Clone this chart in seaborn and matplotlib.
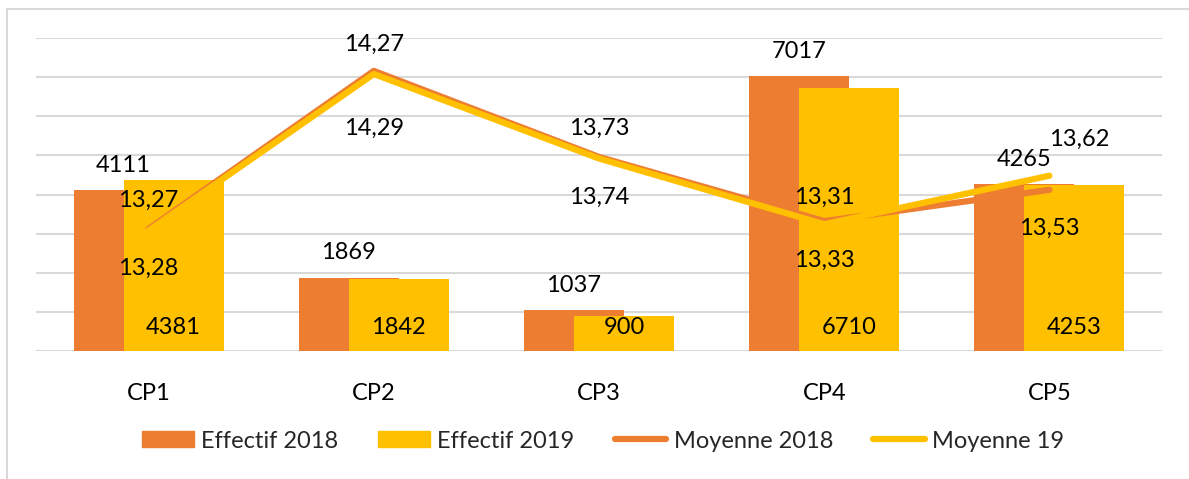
import numpy as np
import pandas as pd
import matplotlib
matplotlib.use('Agg')
import matplotlib.pyplot as plt
from matplotlib.patches import Rectangle, Patch
from matplotlib.lines import Line2D
import seaborn as sns

# Données
categories = ['CP1', 'CP2', 'CP3', 'CP4', 'CP5']
effectif_2018 = [4111, 1869, 1037, 7017, 4265]
effectif_2019 = [4381, 1842, 900, 6710, 4253]
moyenne_2018 = [13.28, 14.29, 13.74, 13.33, 13.53]
moyenne_19 = [13.27, 14.27, 13.73, 13.31, 13.62]

orange = '#ED7D31'
jaune = '#FFC000'
gris = '#D9D9D9'

sns.set_theme(style='white')
plt.rcParams['font.family'] = ['Lato', 'DejaVu Sans']
fs = 17

W, H = 1189, 479
fig = plt.figure(figsize=(W / 100, H / 100), dpi=100)
ax = fig.add_axes([36 / W, 1 - 351 / H, 1126 / W, 313 / H])

idx = np.arange(len(categories))
decal = 0.111
largeur = 0.444

# Barres (2019 par-dessus 2018, chevauchement 50 %)
df18 = pd.DataFrame({'pos': idx - decal, 'val': effectif_2018})
df19 = pd.DataFrame({'pos': idx + decal, 'val': effectif_2019})
sns.barplot(data=df18, x='pos', y='val', native_scale=True, width=largeur,
            color=orange, saturation=1, errorbar=None, linewidth=0, ax=ax)
sns.barplot(data=df19, x='pos', y='val', native_scale=True, width=largeur,
            color=jaune, saturation=1, errorbar=None, linewidth=0, ax=ax)

# Lignes (axe secondaire)
ax2 = ax.twinx()
sns.lineplot(x=idx, y=moyenne_2018, ax=ax2, color=orange, lw=4.5,
             solid_capstyle='round')
sns.lineplot(x=idx, y=moyenne_19, ax=ax2, color=jaune, lw=4.5,
             solid_capstyle='round')
ax2.set_ylim(12.5, 14.5)
ax2.set_yticks([])
for s in ax2.spines.values():
    s.set_visible(False)

ax.set_xlim(-0.5, len(categories) - 0.5)
ax.set_ylim(0, 8000)
ax.set_yticks(np.arange(0, 8001, 1000))
ax.yaxis.grid(True, color=gris, lw=1.5)
ax.set_axisbelow(True)
ax.tick_params(axis='y', left=False, right=False, labelleft=False)
ax.set_xticks(idx)
ax.set_xticklabels(categories, fontsize=fs, color='black')
ax.tick_params(axis='x', bottom=False, pad=17)
ax.set_xlabel('')
ax.set_ylabel('')
for s in ax.spines.values():
    s.set_visible(False)

def fr(v):
    return f'{v:.2f}'.replace('.', ',')

kw = dict(ha='center', va='center', fontsize=fs, color='black',
          textcoords='offset pixels')

# Étiquettes des barres
for i in idx:
    ax2.annotate(str(effectif_2018[i]), (i - decal, effectif_2018[i]),
                 xycoords=ax.transData, xytext=(0, 25), **kw)
    ax2.annotate(str(effectif_2019[i]), (i + decal, 0),
                 xycoords=ax.transData, xytext=(0, 24), **kw)

# Étiquettes des moyennes
dessus = [(0, 30), (0, 30), (0, 30), (0, 27), (30, 36)]
dessous = [(0, -39), (0, -57), (0, -40), (0, -39), (0, -39)]
for i in idx:
    ax2.annotate(fr(moyenne_19[i]), (i, moyenne_19[i]), xytext=dessus[i], **kw)
    ax2.annotate(fr(moyenne_2018[i]), (i, moyenne_2018[i]), xytext=dessous[i], **kw)

# Légende
handles = [Patch(color=orange), Patch(color=jaune),
           Line2D([], [], color=orange, lw=4.5, solid_capstyle='round'),
           Line2D([], [], color=jaune, lw=4.5, solid_capstyle='round')]
labels = ['Effectif 2018', 'Effectif 2019', 'Moyenne 2018', 'Moyenne 19']
fig.legend(handles, labels, loc='center', bbox_to_anchor=(603 / W, 1 - 441 / H),
           ncol=4, frameon=False, fontsize=fs, handlelength=2.2,
           handleheight=0.64, handletextpad=0.3, columnspacing=1.7)

# Cadre extérieur
fig.add_artist(Rectangle((7 / W, -0.1), 1.2, 1.1 - 9 / H, transform=fig.transFigure,
                         fill=False, edgecolor=gris, lw=1.5))

fig.savefig('out.png', dpi=100)
